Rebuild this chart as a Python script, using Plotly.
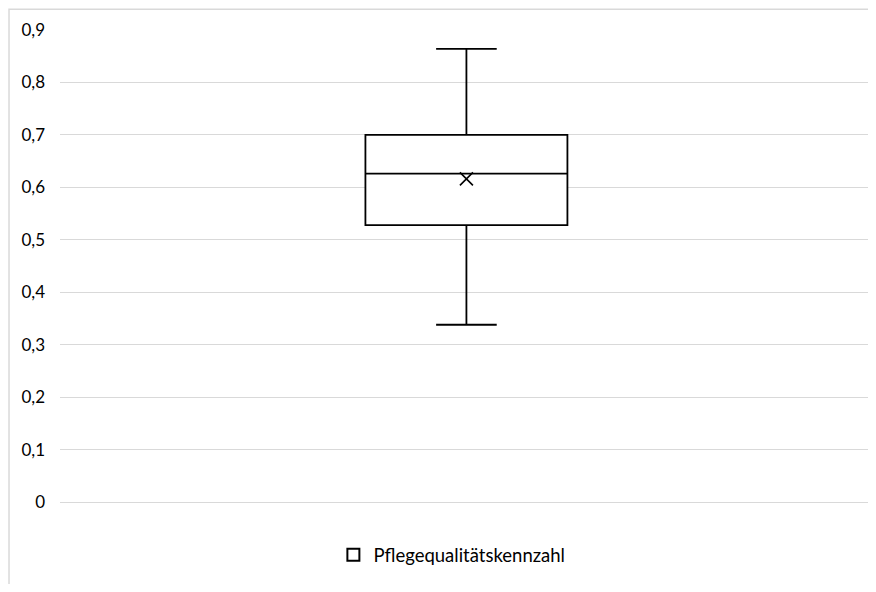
import plotly.graph_objects as go

# box plot summary
name = "Pflegequalitätskennzahl"
q1 = [0.528]
median = [0.626]
q3 = [0.700]
lowerfence = [0.338]
upperfence = [0.864]
mean = [0.616]
xpos = [0.5]

tick_vals = [0, 0.1, 0.2, 0.3, 0.4, 0.5, 0.6, 0.7, 0.8, 0.9]
tick_text = ["0", "0,1", "0,2", "0,3", "0,4", "0,5", "0,6", "0,7", "0,8", "0,9"]

fig = go.Figure()

fig.add_trace(go.Box(x=xpos, q1=q1, median=median, q3=q3,
                     lowerfence=lowerfence, upperfence=upperfence,
                     width=0.25, whiskerwidth=0.3,
                     fillcolor="white",
                     line=dict(color="black", width=1.8),
                     showlegend=False, hoverinfo="skip"))

fig.add_trace(go.Scatter(x=xpos, y=mean, mode="markers",
                         marker=dict(symbol="x-thin", size=13,
                                     line=dict(color="black", width=1.6)),
                         showlegend=False, hoverinfo="skip"))

# legend entry as an open square
fig.add_trace(go.Scatter(x=[None], y=[None], mode="markers", name=name,
                         marker=dict(symbol="square-open", size=14,
                                     color="black",
                                     line=dict(color="black", width=1.5))))

# page body has an 8px margin, so the figure is sized to avoid scrollbars
fig.update_layout(
    width=860, height=576,
    margin=dict(l=52, r=0, t=22, b=81.5),
    paper_bgcolor="white", plot_bgcolor="white",
    font=dict(family="Lato", size=17, color="black"),
    separators=",.",
    legend=dict(orientation="h", x=0.485, y=-0.113,
                xanchor="center", yanchor="middle",
                font=dict(size=18.5), itemsizing="constant"),
    shapes=[dict(type="rect", xref="paper", yref="paper",
                 x0=-0.0631, x1=1.2, y0=-0.3, y1=1.044,
                 line=dict(color="#d9d9d9", width=1.5), layer="below")],
)

fig.update_xaxes(range=[-0.003, 0.997], showgrid=False, zeroline=False,
                 showticklabels=False, showline=False)
fig.update_yaxes(range=[0, 0.9], tickvals=tick_vals, ticktext=tick_text,
                 showgrid=True, gridcolor="#d9d9d9", gridwidth=1.3,
                 zeroline=True, zerolinecolor="#d9d9d9", zerolinewidth=1.3,
                 showline=False, ticks="", ticklabelstandoff=14)

fig.write_html("out.html")
